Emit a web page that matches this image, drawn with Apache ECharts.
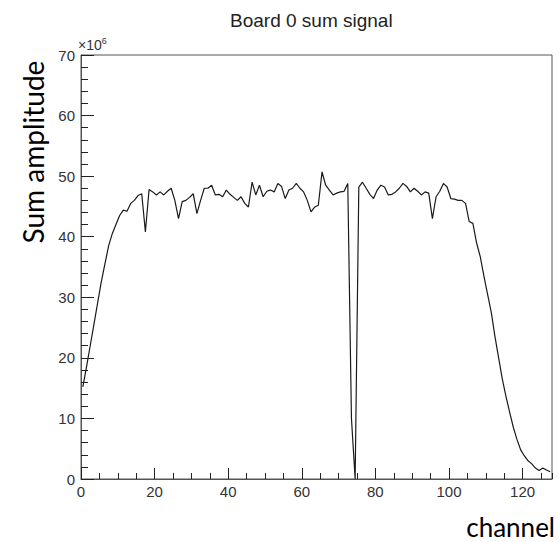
<!DOCTYPE html>
<html>
<head>
<meta charset="utf-8">
<script src="https://cdn.jsdelivr.net/npm/echarts@6/dist/echarts.min.js"></script>
<style>
html,body{margin:0;padding:0;background:#fff;}
#chart{width:559px;height:542px;}
</style>
</head>
<body>
<div id="chart"></div>
<script>
// ---- data (values in units of 10^6) ----
const chartTitle = 'Board 0 sum signal';
const xTitle = 'channel';
const yTitle = 'Sum amplitude';
const yExponent = '6';
const xMin = 0, xMax = 128, xMajor = 20, xMinor = 5;
const yMin = 0, yMax = 70, yMajor = 10, yMinorSplit = 5;
const binWidth = 1;
const amplitude = [
  15.2, 18.5, 22, 25.5, 29, 32.5, 35.5, 38.5, 40.5, 42,
  43.5, 44.4, 44.2, 45.5, 46, 46.8, 47.1, 40.8, 47.8, 47.4,
  46.9, 47.4, 46.9, 47.5, 48, 46, 43, 45.8, 46, 46.5,
  47.1, 43.8, 46, 48, 48, 48.5, 46.9, 47, 46.6, 47.7,
  47, 46.5, 46, 46.6, 45.5, 44.9, 49, 46.9, 48.5, 46.6,
  47.5, 47.7, 47.4, 48.8, 48.3, 46.3, 47.7, 48, 48.8, 48,
  47.4, 46, 44.1, 44.9, 45.2, 50.7, 48.5, 47.7, 46.9, 47.2,
  47.4, 47.5, 48.8, 10, 0, 48.2, 49, 48, 47, 46.3,
  47.7, 48.5, 48.2, 46.9, 47, 47.4, 48, 48.8, 48.3, 47.4,
  48, 47.5, 46.9, 47.4, 47.2, 43, 46.6, 47.5, 48.8, 48.2,
  46.3, 46.2, 46, 46, 45.5, 42.5, 42.2, 39, 36.7, 33.5,
  30.5, 27.5, 23.5, 20, 16.5, 13.6, 11, 8.5, 6.5, 4.8,
  3.8, 3, 2.5, 1.8, 1.4, 1.8, 1.5, 1.2
];

// bin centres
const seriesData = amplitude.map((v, i) => [xMin + (i + 0.5) * binWidth, v]);

const axisColor = '#555';
const labelStyle = {fontFamily: 'Liberation Sans', fontSize: 15, color: '#333'};

const chart = echarts.init(document.getElementById('chart'), null, {renderer: 'svg'});
chart.setOption({
  animation: false,
  backgroundColor: '#fff',
  title: {
    text: chartTitle,
    left: 225, top: 6,
    textStyle: {fontFamily: 'Liberation Sans', fontSize: 19, fontWeight: 'normal', color: '#222'}
  },
  grid: {
    left: 81, top: 55, right: 7, bottom: 63,
    show: true, borderColor: axisColor, borderWidth: 1, backgroundColor: 'transparent',
    outerBoundsMode: 'none'
  },
  xAxis: [
    {
      type: 'value', min: xMin, max: xMax, interval: xMajor,
      axisLine: {show: true, lineStyle: {color: axisColor, width: 1}},
      axisTick: {show: true, inside: true, length: 11, lineStyle: {color: '#222', width: 1}},
      axisLabel: Object.assign({showMaxLabel: false, margin: 5}, labelStyle),
      splitLine: {show: false}
    },
    {
      type: 'value', min: xMin, max: xMax, interval: xMinor, position: 'bottom',
      axisLine: {show: false},
      axisTick: {show: true, inside: true, length: 6, lineStyle: {color: '#222', width: 1}},
      axisLabel: {show: false},
      splitLine: {show: false}
    }
  ],
  yAxis: {
    type: 'value', min: yMin, max: yMax, interval: yMajor,
    axisLine: {show: true, lineStyle: {color: axisColor, width: 1}},
    axisTick: {show: true, inside: true, length: 13, lineStyle: {color: '#222', width: 1}},
    minorTick: {show: true, splitNumber: yMinorSplit, length: 7, lineStyle: {color: '#222', width: 1}},
    axisLabel: Object.assign({margin: 6}, labelStyle),
    splitLine: {show: false}, minorSplitLine: {show: false}
  },
  graphic: [
    {
      type: 'text', x: 78, y: 36,
      style: {
        text: '{a|×10}{b|' + yExponent + '}',
        rich: {
          a: {fontFamily: 'Liberation Sans', fontSize: 14, fill: '#333', verticalAlign: 'bottom'},
          b: {fontFamily: 'Liberation Sans', fontSize: 9, fill: '#333', verticalAlign: 'top', padding: [0,0,7,0]}
        }
      }
    },
    {
      type: 'text', x: 33, y: 152, rotation: Math.PI / 2,
      style: {text: yTitle, fontFamily: 'Lato', fontSize: 28, fill: '#000', align: 'center', verticalAlign: 'middle'}
    },
    {
      type: 'text', x: 555, y: 527,
      style: {text: xTitle, fontFamily: 'Lato', fontSize: 26, fill: '#000', align: 'right', verticalAlign: 'middle'}
    }
  ],
  series: [{
    type: 'line',
    xAxisIndex: 0,
    data: seriesData,
    symbol: 'none',
    lineStyle: {color: '#1a1a1a', width: 1.2},
    clip: true
  }]
});
</script>
</body>
</html>
